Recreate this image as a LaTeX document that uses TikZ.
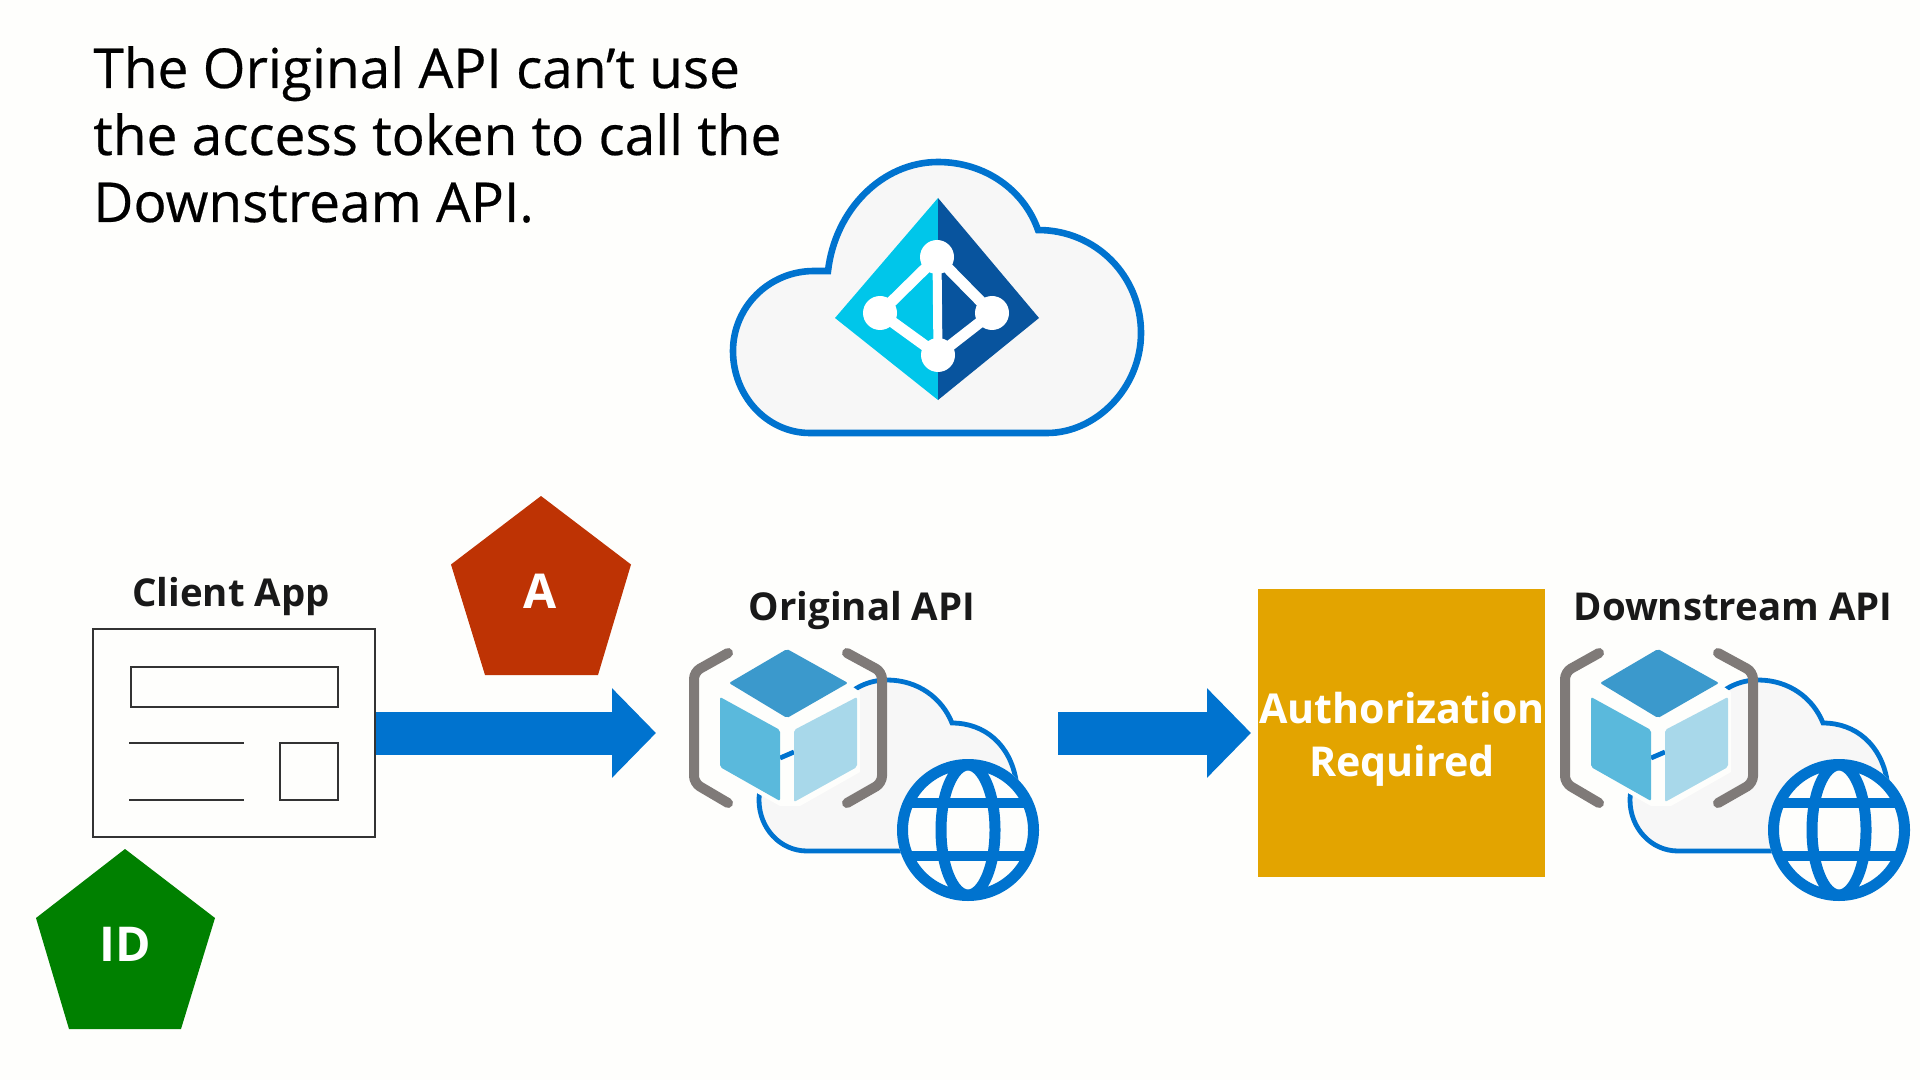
\documentclass[tikz,border=0pt]{standalone}
\usepackage{fontspec}
\setmainfont{Open Sans}
\newfontfamily\titlefont[FakeBold=0.4]{Open Sans}
\usetikzlibrary{arrows.meta}
\definecolor{pagebg}{HTML}{FEFEFC}
\definecolor{cloudfill}{HTML}{F7F7F7}
\definecolor{azblue}{HTML}{0073CF}
\definecolor{inkdark}{HTML}{333333}
\definecolor{bracketgrey}{HTML}{7F7A78}
\definecolor{cubetop}{HTML}{3B99CC}
\definecolor{cubeleft}{HTML}{5AB9DC}
\definecolor{cuberight}{HTML}{A8D8EA}
\definecolor{diaL}{HTML}{00C6EA}
\definecolor{diaR}{HTML}{08549E}
\definecolor{tokengreen}{HTML}{008000}
\definecolor{tokenred}{HTML}{BE3304}
\definecolor{authgold}{HTML}{E3A400}
\tikzset{
  bigarrow/.style={azblue,line width=21.5pt,-{Triangle[length=22pt,width=43.5pt]}},
  wire/.style={draw=inkdark,line width=1.4pt,fill=none},
  lbl/.style={anchor=base,inner sep=0pt,text=black!90,font=\fontsize{19.2}{22}\selectfont\bfseries},
  tokentxt/.style={anchor=center,inner sep=0pt,text=white,font=\fontsize{24}{26}\selectfont\bfseries},
  authtxt/.style={anchor=base,inner sep=0pt,text=white,font=\fontsize{20.6}{26}\selectfont\bfseries},
  apiicon/.pic={
    \draw[azblue,line width=2.4pt,fill=cloudfill]
      (807,851) .. controls (780,851) and (759,828) .. (759,800)
      .. controls (759,778) and (775,760) .. (797,752) -- (822,747)
      .. controls (825,712) and (850,680) .. (887,680)
      .. controls (918,680) and (942,698) .. (952,723)
      .. controls (985,723) and (1010,745) .. (1016,780) -- (1016,851) -- cycle;
    \fill[pagebg] (716,692) -- (787,640) -- (860,692) -- (860,772) -- (800,806) -- (780,806) -- (716,770) -- cycle;
    \draw[azblue,line width=2.4pt] (780,758) -- (794,752);
    \draw[bracketgrey,line width=5pt,line cap=round,rounded corners=3.5pt]
      (728,653) -- (694,672) -- (694,783) -- (728,803);
    \draw[bracketgrey,line width=5pt,line cap=round,rounded corners=3.5pt]
      (847,653) -- (882,672) -- (882,783) -- (847,803);
    \fill[cubetop,rounded corners=1pt] (787,649) -- (848,683) -- (787,718) -- (729,683) -- cycle;
    \fill[cubeleft,rounded corners=1pt] (720,697) -- (780,730) -- (780,801) -- (720,767) -- cycle;
    \fill[cuberight,rounded corners=1pt] (794,730) -- (857,697) -- (857,767) -- (794,802) -- cycle;
    \fill[pagebg] (968,830) circle[radius=71];
    \begin{scope}
      \clip (968,830) circle[radius=68];
      \draw[azblue,line width=5.2pt] (900,803) -- (1036,803);
      \draw[azblue,line width=5.2pt] (900,856) -- (1036,856);
    \end{scope}
    \draw[azblue,line width=5.5pt] (968,830) ellipse[x radius=27,y radius=65];
    \draw[azblue,line width=5.5pt] (968,830) circle[radius=65.5];
  }
}
\begin{document}
\begin{tikzpicture}[x=0.5pt,y=-0.5pt]
\useasboundingbox (0,0) rectangle (1920,1080);
\fill[pagebg] (0,0) rectangle (1920,1080);

% title
\node[anchor=base west,inner sep=0pt,text=black,align=left,
      font=\titlefont\fontsize{27.5}{33.5}\selectfont] (title) at (93,222)
  {The Original API can’t use\\the access token to call the\\Downstream API.};

% directory cloud
\draw[azblue,line width=3.3pt,fill=cloudfill]
  (810,433) .. controls (767,433) and (733,396) .. (733,351)
  .. controls (733,307) and (769,271) .. (814,271) -- (828,271)
  .. controls (835,210) and (882,162) .. (938,162)
  .. controls (985,162) and (1024,190) .. (1038,230)
  .. controls (1096,230) and (1141,276) .. (1141,333)
  .. controls (1141,388) and (1096,433) .. (1047,433) -- cycle;
\fill[diaL] (938,198) -- (835,318) -- (938,400) -- cycle;
\fill[diaR] (938,198) -- (1039,318) -- (938,400) -- cycle;
\draw[white,line width=5.5pt] (937,257) -- (880,313) -- (938,355) -- (992,313) -- cycle;
\draw[white,line width=4.5pt] (937,257) -- (938,355);
\foreach \cx/\cy in {937/257,880/313,992/313,938/355}
  \fill[white] (\cx,\cy) circle[radius=17];

% client app
\node[lbl] (clientlabel) at (231,606) {Client App};
\node[draw=inkdark,line width=1.4pt,minimum width=141pt,minimum height=104pt,inner sep=0pt] (client) at (234,733) {};
\draw[wire] (131,667) rectangle (338,707);
\draw[wire] (129,743) -- (244,743);
\draw[wire] (129,800) -- (244,800);
\draw[wire] (280,743) rectangle (338,800);

% ID token
\fill[tokengreen] (125,849) -- (215,918) -- (181,1029) -- (69,1029) -- (36,918) -- cycle;
\node[tokentxt] (idtok) at (125,944) {ID};

% access token
\fill[tokenred] (541,496) -- (631,564.5) -- (598,675) -- (485,675) -- (451,564.5) -- cycle;
\node[tokentxt] (atok) at (540,591) {A};

% arrows
\coordinate (origin1) at (656,733);
\coordinate (start2) at (1058,733);
\coordinate (end2) at (1251,733);
\draw[bigarrow] (client.east) -- (origin1);
\draw[bigarrow] (start2) -- (end2);

% apis
\node[lbl] (origlabel) at (862,620) {Original API};
\pic at (0,0) {apiicon};
\node[lbl] (downlabel) at (1733,620) {Downstream API};
\pic at (871,0) {apiicon};

% authorization
\node[fill=authgold,minimum width=143.5pt,minimum height=144pt,inner sep=0pt] (auth) at (1401.5,733) {};
\node[authtxt] (authA) at (1402,723) {Authorization};
\node[authtxt] (authB) at (1402,776) {Required};
\end{tikzpicture}
\end{document}
